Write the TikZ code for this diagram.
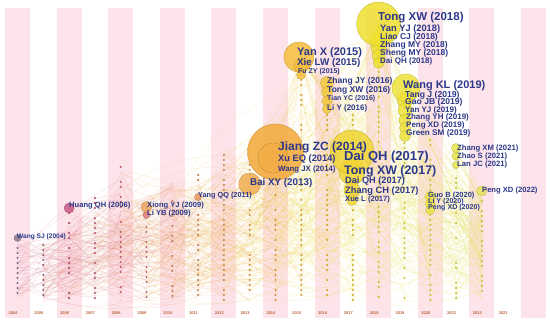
\documentclass[tikz,border=0pt]{standalone}
\usepackage{fontspec}
\setmainfont{Liberation Sans}
\usepackage{tikz}
\usetikzlibrary{positioning}
\usepackage{xcolor}

% colours by year, 2004 ... 2023
\definecolor{yc0}{HTML}{8C7A96}
\definecolor{yc1}{HTML}{B0708E}
\definecolor{yc2}{HTML}{C85A86}
\definecolor{yc3}{HTML}{D46A88}
\definecolor{yc4}{HTML}{DC6F80}
\definecolor{yc5}{HTML}{E07A78}
\definecolor{yc6}{HTML}{E58A70}
\definecolor{yc7}{HTML}{E89A66}
\definecolor{yc8}{HTML}{ECA55E}
\definecolor{yc9}{HTML}{F0AD52}
\definecolor{yc10}{HTML}{F3A93A}
\definecolor{yc11}{HTML}{F5BD3C}
\definecolor{yc12}{HTML}{F5C93E}
\definecolor{yc13}{HTML}{F0D535}
\definecolor{yc14}{HTML}{EFE030}
\definecolor{yc15}{HTML}{EEE23A}
\definecolor{yc16}{HTML}{ECE444}
\definecolor{yc17}{HTML}{EAE64E}
\definecolor{yc18}{HTML}{E8E458}
\definecolor{yc19}{HTML}{E8E458}
\definecolor{labblue}{RGB}{44,56,138}
\definecolor{stripe}{RGB}{253,227,234}
\definecolor{yrtxt}{RGB}{190,100,60}

\newcommand{\lsz}[1]{\fontsize{#1}{#1}\selectfont\bfseries}

\tikzset{
  cite/.style={circle, inner sep=0pt, draw=#1!80!black, fill=#1, fill opacity=.85, line width=.3pt},
  lab/.style={anchor=west, inner sep=0pt, text=labblue},
  yrlab/.style={inner sep=0pt, text=yrtxt, font=\fontsize{4}{4}\selectfont\bfseries},
}

\begin{document}
\begin{tikzpicture}[x=1pt, y=-1pt]
\useasboundingbox (0,0) rectangle (550,323);
\fill[white] (0,0) rectangle (550,323);
\pgfmathsetseed{11}
\def\tops{{238,245,208,198,167,207,181,175,150,150,180,60,80,110,22,88,135,148,191,300}}

% Year stripes
\foreach \k in {0,2,...,20}
  \fill[stripe] ({17.5+25.8*\k-12.5},8) rectangle ({17.5+25.8*\k+12.5},318);

% Co-citation links
\foreach \i in {1,...,950}{
  \pgfmathtruncatemacro\a{random(0,17)}
  \pgfmathtruncatemacro\b{min(18,\a+random(1,6))}
  \pgfmathsetmacro\ya{\tops[\a]+rnd*(302-\tops[\a])}
  \pgfmathsetmacro\yb{\tops[\b]+rnd*(302-\tops[\b])}
  \pgfmathtruncatemacro\bnd{random(-30,30)}
  \draw[yc\b, opacity=.25, line width=.3pt] ({17.5+25.8*\a},\ya) to[bend left=\bnd] ({17.5+25.8*\b},\yb);
}
% fans below the big ones
\foreach \i in {1,...,50}{
  \pgfmathtruncatemacro\b{random(9,17)}
  \pgfmathsetmacro\yb{\tops[\b]+rnd*(302-\tops[\b])}
  \draw[yc12, opacity=.2, line width=.3pt] (300.5,57) -- ({17.5+25.8*\b},\yb);
  \pgfmathtruncatemacro\c{random(10,18)}
  \pgfmathsetmacro\yc{\tops[\c]+rnd*(302-\tops[\c])}
  \draw[yc14, opacity=.2, line width=.3pt] (378.7,24) -- ({17.5+25.8*\c},\yc);
}

% Dots of each year
\foreach \k/\ytop in {0/238,1/245,2/208,3/198,4/167,5/207,6/181,7/175,8/150,9/150,10/180,11/60,12/80,13/110,14/22,15/88,16/135,17/148,18/191}{
  \pgfmathtruncatemacro\n{(300-\ytop)/5}
  \foreach \j in {0,...,\n}{
    \pgfmathtruncatemacro\keep{rnd>0.3 ? 1 : 0}
    \ifnum\keep=1
      \fill[yc\k!85!black] ({17.5+25.8*\k},{\ytop+5*\j}) circle (1.2);
    \fi
  }
}

% Year labels
\foreach \k in {0,...,19}{
  \pgfmathtruncatemacro\yr{2004+\k}
  \node[yrlab] (yr\k) at ({13+25.8*\k},313) {\yr};
}

% Cited references
\node[cite=yc0, minimum size=7pt] (wsj04) at (17.5,238) {};
\node[cite=yc2, minimum size=10pt] (hqh06) at (69.1,208) {};
\node[cite=yc5, minimum size=7pt] (lyb09) at (146.5,215) {};
\node[cite=yc8, minimum size=11pt] (xyj09) at (146.5,207) {};
\node[cite=yc7, minimum size=7pt] (yqq11) at (198.1,197) {};
\node[cite=yc9, minimum size=22pt] (bxy13) at (249.7,184) {};
\node[cite=yc10, minimum size=56pt] (jzc14) at (275.5,152) {};
\node[cite=yc10, minimum size=30pt, fill opacity=.4] (xeq14) at (273,158) {};
\node[cite=yc11, minimum size=30pt] (yx15) at (299,57) {};
\node[cite=yc11, minimum size=14pt] (xlw15) at (301,66) {};
\node[cite=yc11, minimum size=9pt] (fzy15) at (301,75) {};
\node[cite=yc12, minimum size=13pt] (zjy16) at (327,83) {};
\node[cite=yc12, minimum size=11pt] (txw16) at (327,92) {};
\node[cite=yc12, minimum size=10pt] (tyc16) at (327,101) {};
\node[cite=yc12, minimum size=9pt] (ly16) at (327,109) {};
\node[cite=yc13, minimum size=26pt] (txw17) at (352,172) {};
\node[cite=yc13, minimum size=16pt] (zch17) at (352,190) {};
\node[cite=yc13, minimum size=11pt] (xl17) at (352,200) {};
\node[cite=yc13, minimum size=44pt] (dqh17) at (352,152) {};
\node[cite=yc14, minimum size=17pt] (yyj18) at (378.7,40) {};
\node[cite=yc14, minimum size=15pt] (lcj18) at (378.7,48) {};
\node[cite=yc14, minimum size=13pt] (sm18) at (378.7,56) {};
\node[cite=yc14, minimum size=11pt] (dqh18) at (378.7,63) {};
\node[cite=yc14, minimum size=44pt] (txw18) at (378.7,24) {};
\node[cite=yc15, minimum size=16pt] (tj19) at (405,100) {};
\node[cite=yc15, minimum size=14pt] (gjb19) at (405,110) {};
\node[cite=yc15, minimum size=12pt] (zyh19) at (405,120) {};
\node[cite=yc15, minimum size=11pt] (pxd19) at (405,128) {};
\node[cite=yc15, minimum size=11pt] (gsm19) at (405,136) {};
\node[cite=yc15, minimum size=28pt] (wkl19) at (406,88) {};
\node[cite=yc16, minimum size=11pt] (gb20) at (430.3,197) {};
\node[cite=yc16, minimum size=10pt] (ly20) at (430.3,204) {};
\node[cite=yc16, minimum size=9pt] (pxd20) at (430.3,210) {};
\node[cite=yc17, minimum size=9pt] (zxm21) at (456,148) {};
\node[cite=yc17, minimum size=8pt] (zs21) at (456,156) {};
\node[cite=yc17, minimum size=7pt] (ljc21) at (456,165) {};
\node[cite=yc18, minimum size=10pt] (pxd22) at (481.9,191) {};

% Labels
\node[lab, font=\lsz{6.6}] (lwsj04) at (17,237) {Wang SJ (2004)};
\node[lab, font=\lsz{7.6}] (lhqh06) at (69,206) {Huang QH (2006)};
\node[lab, font=\lsz{7.6}] (lxyj09) at (147,206) {Xiong YJ (2009)};
\node[lab, font=\lsz{7.6}] (llyb09) at (147,214) {Li YB (2009)};
\node[lab, font=\lsz{7.3}] (lyqq11) at (198,196) {Yang QQ (2011)};
\node[lab, font=\lsz{9.8}] (lbxy13) at (250,183) {Bai XY (2013)};
\node[lab, font=\lsz{12}] (ljzc14) at (278,147) {Jiang ZC (2014)};
\node[lab, font=\lsz{9.3}] (lxeq14) at (278,159) {Xu EQ (2014)};
\node[lab, font=\lsz{7.8}] (lwjx14) at (278,170) {Wang JX (2014)};
\node[lab, font=\lsz{11}] (lyx15) at (297,53) {Yan X (2015)};
\node[lab, font=\lsz{9.8}] (lxlw15) at (297,63) {Xie LW (2015)};
\node[lab, font=\lsz{7}] (lfzy15) at (298,72) {Fu ZY (2015)};
\node[lab, font=\lsz{8.5}] (lzjy16) at (327,81) {Zhang JY (2016)};
\node[lab, font=\lsz{8.5}] (ltxw16) at (327,90) {Tong XW (2016)};
\node[lab, font=\lsz{7}] (ltyc16) at (327,99) {Tian YC (2016)};
\node[lab, font=\lsz{8}] (lly16) at (327,108) {Li Y (2016)};
\node[lab, font=\lsz{13}] (ldqh17) at (344,157) {Dai QH (2017)};
\node[lab, font=\lsz{12.4}] (ltxw17) at (344,171) {Tong XW (2017)};
\node[lab, font=\lsz{9.2}] (ldqh17b) at (345,181) {Dai QH (2017)};
\node[lab, font=\lsz{9.3}] (lzch17) at (345,191) {Zhang CH (2017)};
\node[lab, font=\lsz{7.6}] (lxl17) at (345,200) {Xue L (2017)};
\node[lab, font=\lsz{11.5}] (ltxw18) at (378,18) {Tong XW (2018)};
\node[lab, font=\lsz{9.3}] (lyyj18) at (380,29) {Yan YJ (2018)};
\node[lab, font=\lsz{8.5}] (llcj18) at (380,37) {Liao CJ (2018)};
\node[lab, font=\lsz{8.5}] (lzmy18) at (380,45) {Zhang MY (2018)};
\node[lab, font=\lsz{8.5}] (lsmy18) at (380,53) {Sheng MY (2018)};
\node[lab, font=\lsz{8}] (ldqh18) at (380,61) {Dai QH (2018)};
\node[lab, font=\lsz{11}] (lwkl19) at (403,85.5) {Wang KL (2019)};
\node[lab, font=\lsz{8.6}] (ltj19) at (405,95) {Tang J (2019)};
\node[lab, font=\lsz{8.6}] (lgjb19) at (405,102.5) {Gao JB (2019)};
\node[lab, font=\lsz{8}] (lyyj19) at (405,110) {Yan YJ (2019)};
\node[lab, font=\lsz{8}] (lzyh19) at (406,117.5) {Zhang YH (2019)};
\node[lab, font=\lsz{8}] (lpxd19) at (406,125) {Peng XD (2019)};
\node[lab, font=\lsz{8.2}] (lgsm19) at (406,133) {Green SM (2019)};
\node[lab, font=\lsz{7.5}] (lgb20) at (428,196) {Guo B (2020)};
\node[lab, font=\lsz{7.1}] (lly20) at (428,202) {Li Y (2020)};
\node[lab, font=\lsz{7.1}] (lpxd20) at (428,208) {Peng XD (2020)};
\node[lab, font=\lsz{7.7}] (lzxm21) at (457,149) {Zhang XM (2021)};
\node[lab, font=\lsz{7.7}] (lzs21) at (457,157) {Zhao S (2021)};
\node[lab, font=\lsz{7.7}] (lljc21) at (457,165) {Lan JC (2021)};
\node[lab, font=\lsz{7.6}] (lpxd22) at (482,191) {Peng XD (2022)};
\end{tikzpicture}
\end{document}
